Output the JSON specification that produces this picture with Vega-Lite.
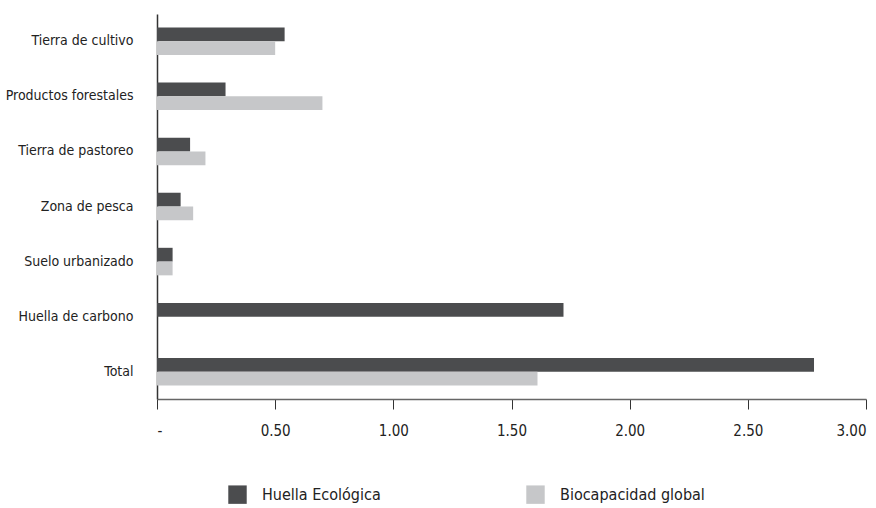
{
  "$schema": "https://vega.github.io/schema/vega-lite/v6.json",
  "width": 709,
  "height": 385,
  "autosize": "none",
  "padding": {"left": 157, "top": 14, "right": 10, "bottom": 109},
  "background": "white",
  "data": {
    "values": [
      {"categoria": "Tierra de cultivo", "serie": "Huella Ecológica", "valor": 0.54},
      {"categoria": "Tierra de cultivo", "serie": "Biocapacidad global", "valor": 0.50},
      {"categoria": "Productos forestales", "serie": "Huella Ecológica", "valor": 0.29},
      {"categoria": "Productos forestales", "serie": "Biocapacidad global", "valor": 0.70},
      {"categoria": "Tierra de pastoreo", "serie": "Huella Ecológica", "valor": 0.14},
      {"categoria": "Tierra de pastoreo", "serie": "Biocapacidad global", "valor": 0.205},
      {"categoria": "Zona de pesca", "serie": "Huella Ecológica", "valor": 0.10},
      {"categoria": "Zona de pesca", "serie": "Biocapacidad global", "valor": 0.153},
      {"categoria": "Suelo urbanizado", "serie": "Huella Ecológica", "valor": 0.066},
      {"categoria": "Suelo urbanizado", "serie": "Biocapacidad global", "valor": 0.066},
      {"categoria": "Huella de carbono", "serie": "Huella Ecológica", "valor": 1.72},
      {"categoria": "Huella de carbono", "serie": "Biocapacidad global", "valor": 0},
      {"categoria": "Total", "serie": "Huella Ecológica", "valor": 2.78},
      {"categoria": "Total", "serie": "Biocapacidad global", "valor": 1.61}
    ]
  },
  "mark": {"type": "bar"},
  "encoding": {
    "y": {
      "field": "categoria",
      "type": "nominal",
      "sort": ["Tierra de cultivo", "Productos forestales", "Tierra de pastoreo", "Zona de pesca", "Suelo urbanizado", "Huella de carbono", "Total"],
      "scale": {"paddingInner": 0.5, "paddingOuter": 0.245},
      "axis": {
        "title": null,
        "ticks": false,
        "domain": true,
        "domainColor": "#333333",
        "domainWidth": 1.5,
        "labelPadding": 24,
        "labelFont": "'DejaVu Sans Condensed', 'DejaVu Sans', sans-serif",
        "labelFontSize": 14,
        "labelColor": "#222222"
      }
    },
    "yOffset": {
      "field": "serie",
      "type": "nominal",
      "sort": ["Huella Ecológica", "Biocapacidad global"],
      "scale": {"paddingInner": 0, "paddingOuter": 0}
    },
    "x": {
      "field": "valor",
      "type": "quantitative",
      "scale": {"domain": [0, 3], "nice": false},
      "axis": {
        "title": null,
        "values": [0, 0.5, 1, 1.5, 2, 2.5, 3],
        "labelExpr": "datum.value == 0 ? '-' : format(datum.value, '.2f')",
        "grid": false,
        "domainColor": "#666666",
        "domainWidth": 1.5,
        "tickColor": "#333333",
        "tickSize": 10,
        "labelPadding": 14,
        "labelFont": "'DejaVu Sans Condensed', 'DejaVu Sans', sans-serif",
        "labelFontSize": 15,
        "labelColor": "#222222"
      }
    },
    "color": {
      "field": "serie",
      "type": "nominal",
      "sort": ["Huella Ecológica", "Biocapacidad global"],
      "scale": {"domain": ["Huella Ecológica", "Biocapacidad global"], "range": ["#4b4c4e", "#c6c7c9"]},
      "legend": {
        "title": null,
        "orient": "none",
        "direction": "horizontal",
        "legendX": 71,
        "legendY": 471,
        "symbolType": "square",
        "symbolSize": 340,
        "symbolStrokeWidth": 0,
        "labelOffset": 15,
        "columnPadding": 145,
        "labelFont": "'DejaVu Sans Condensed', 'DejaVu Sans', sans-serif",
        "labelFontSize": 16,
        "labelColor": "#222222"
      }
    }
  },
  "config": {"view": {"stroke": null}}
}
